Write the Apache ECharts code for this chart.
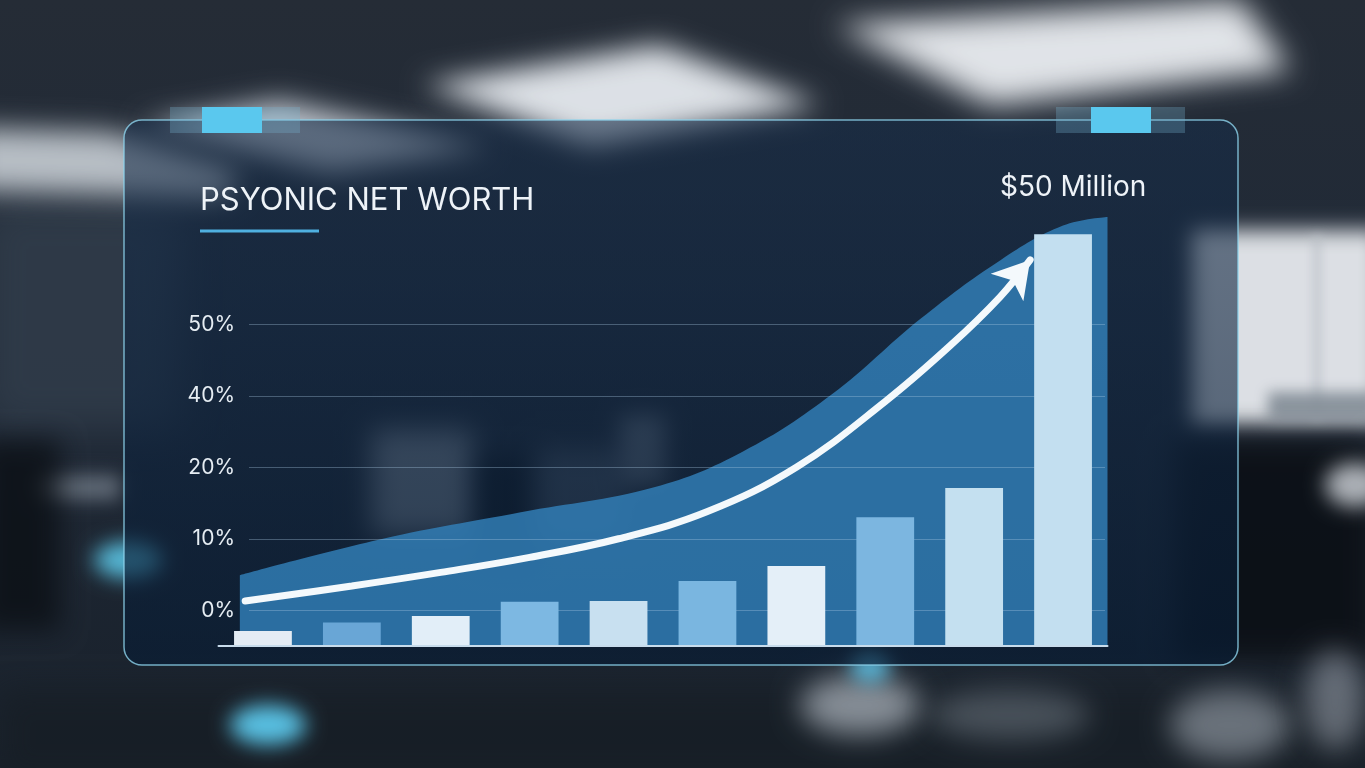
<!DOCTYPE html>
<html>
<head>
<meta charset="utf-8">
<script src="https://cdn.jsdelivr.net/npm/echarts@6/dist/echarts.min.js"></script>
<style>
  html, body { margin: 0; padding: 0; background: #1b2431; }
  #chart { width: 1365px; height: 768px; }
</style>
</head>
<body>
<div id="chart"></div>
<script>
// bars: heights in grid steps above the baseline
const categories = ['1', '2', '3', '4', '5', '6', '7', '8', '9', '10']
const barValues = [0.21, 0.33, 0.42, 0.62, 0.63, 0.91, 1.12, 1.80, 2.21, 5.76]
const barColors = ['#e4ecf4', '#69a6d6', '#e2eef8', '#7db8e2', '#c8e0f0',
  '#7ab6e0', '#e4eff8', '#7cb6e0', '#c4e0f0', '#c3dff0']

// y axis labels (evenly spaced, not linear)
const yLabels = ['0%', '10%', '20%', '40%', '50%']

// area behind the bars: [x position in bar slots, height in steps]
const areaPoints = [
  [-0.26, 0.99], [1.35, 1.50], [2.9, 1.87], [4.4, 2.22], [5.4, 2.72],
  [6.4, 3.52], [7.4, 4.58], [8.3, 5.40], [9.0, 5.88], [9.5, 6.0]
]

// growth arrow
const arrowPoints = [
  [-0.2, 0.63], [1.0, 0.84], [2.0, 1.03], [3.0, 1.24], [4.0, 1.50],
  [5.0, 1.88], [6.0, 2.50], [7.0, 3.42], [7.73, 4.20], [8.29, 4.88], [8.63, 5.40]
]

const chart = echarts.init(document.getElementById('chart'))

// blurred photo-like shapes: draw off screen, show only the shadow
const OFF = 3000
function blur(type, shape, color, amount) {
  const s = Object.assign({}, shape)
  if (type === 'polygon') s.points = shape.points.map(p => [p[0] - OFF, p[1]])
  else if (type === 'rect') s.x = shape.x - OFF
  else s.cx = shape.cx - OFF
  return {
    type: type, shape: s, silent: true, z: -10,
    style: { fill: '#000', shadowColor: color, shadowBlur: amount, shadowOffsetX: OFF }
  }
}

const background = [
  {
    type: 'rect', shape: { x: 0, y: 0, width: 1365, height: 768 }, silent: true, z: -20,
    style: {
      fill: new echarts.graphic.LinearGradient(0, 0, 0, 1, [
        { offset: 0, color: '#252c36' },
        { offset: 0.45, color: '#1f2937' },
        { offset: 1, color: '#19212b' }
      ])
    }
  },
  blur('rect', { x: -20, y: 200, width: 200, height: 230 }, 'rgba(48,60,74,0.85)', 40),
  // ceiling lights
  blur('polygon', { points: [[423, 85], [659, 45], [820, 105], [590, 146]] }, 'rgba(226,230,235,0.97)', 28),
  blur('polygon', { points: [[835, 25], [1240, 0], [1290, 70], [990, 105]] }, 'rgba(230,233,237,0.97)', 30),
  blur('polygon', { points: [[140, 125], [280, 100], [490, 148], [330, 172]] }, 'rgba(205,211,218,0.9)', 28),
  blur('polygon', { points: [[-30, 128], [110, 132], [240, 172], [225, 198], [-30, 190]] }, 'rgba(200,206,213,0.9)', 28),
  // windows on the right
  blur('rect', { x: 1192, y: 230, width: 190, height: 195 }, 'rgba(226,229,233,0.97)', 20),
  blur('rect', { x: 1312, y: 235, width: 10, height: 185 }, 'rgba(185,190,197,0.6)', 10),
  blur('rect', { x: 1268, y: 392, width: 110, height: 30 }, 'rgba(130,140,150,0.9)', 14),
  blur('rect', { x: 1175, y: 440, width: 200, height: 220 }, 'rgba(12,16,22,0.95)', 26),
  blur('ellipse', { cx: 1355, cy: 485, rx: 30, ry: 22 }, 'rgba(200,205,210,0.85)', 20),
  // office furniture
  blur('rect', { x: 372, y: 430, width: 100, height: 105 }, 'rgba(150,160,172,0.75)', 26),
  blur('rect', { x: 480, y: 455, width: 60, height: 110 }, 'rgba(10,16,24,0.8)', 24),
  blur('rect', { x: 535, y: 450, width: 90, height: 90 }, 'rgba(90,104,120,0.6)', 26),
  blur('rect', { x: 620, y: 415, width: 45, height: 70 }, 'rgba(130,142,156,0.6)', 22),
  blur('rect', { x: 35, y: 475, width: 85, height: 25 }, 'rgba(110,120,132,0.8)', 18),
  blur('rect', { x: -20, y: 440, width: 80, height: 190 }, 'rgba(12,16,22,0.85)', 26),
  blur('rect', { x: 0, y: 690, width: 1365, height: 90 }, 'rgba(22,28,36,0.7)', 30),
  blur('ellipse', { cx: 860, cy: 705, rx: 60, ry: 30 }, 'rgba(160,168,176,0.8)', 28),
  blur('ellipse', { cx: 1010, cy: 715, rx: 80, ry: 25 }, 'rgba(120,130,140,0.5)', 28),
  blur('ellipse', { cx: 1230, cy: 725, rx: 60, ry: 35 }, 'rgba(160,168,178,0.6)', 28),
  blur('ellipse', { cx: 1335, cy: 700, rx: 30, ry: 50 }, 'rgba(160,168,178,0.55)', 28),
  // blue glows
  blur('ellipse', { cx: 128, cy: 560, rx: 34, ry: 18 }, 'rgba(92,200,232,0.9)', 20),
  blur('ellipse', { cx: 268, cy: 725, rx: 38, ry: 20 }, 'rgba(92,200,236,0.95)', 20),
  blur('ellipse', { cx: 870, cy: 667, rx: 20, ry: 16 }, 'rgba(92,190,226,0.85)', 18),
  // glass panel
  {
    type: 'rect', shape: { x: 124, y: 120, width: 1114, height: 545, r: 18 }, silent: true, z: -5,
    style: {
      fill: new echarts.graphic.LinearGradient(0, 0, 0, 1, [
        { offset: 0, color: 'rgba(22,44,72,0.58)' },
        { offset: 1, color: 'rgba(8,28,52,0.68)' }
      ]),
      stroke: 'rgba(140,210,235,0.8)', lineWidth: 1.5
    }
  },
  // top tabs
  { type: 'rect', shape: { x: 170, y: 107, width: 130, height: 26 }, silent: true, z: -4, style: { fill: 'rgba(120,180,210,0.3)' } },
  { type: 'rect', shape: { x: 202, y: 107, width: 60, height: 26 }, silent: true, z: -3, style: { fill: '#5ac8ee' } },
  { type: 'rect', shape: { x: 1056, y: 107, width: 129, height: 26 }, silent: true, z: -4, style: { fill: 'rgba(120,180,210,0.3)' } },
  { type: 'rect', shape: { x: 1091, y: 107, width: 60, height: 26 }, silent: true, z: -3, style: { fill: '#5ac8ee' } },
  // title underline
  { type: 'rect', shape: { x: 200, y: 229.5, width: 119, height: 3 }, silent: true, z: 5, style: { fill: '#4fb0e0' } }
]

const arrowData = arrowPoints.map((p, i) => {
  if (i < arrowPoints.length - 1) return { value: p }
  return { value: p, symbol: 'arrow', symbolSize: [32, 36], symbolRotate: -40 }
})

const option = {
  animation: false,
  graphic: { elements: background },
  title: [
    {
      text: 'PSYONIC NET WORTH', left: 200, top: 183, padding: 0,
      textStyle: { color: '#eef3f8', fontFamily: 'Inter', fontSize: 31, fontWeight: 400, lineHeight: 36 }
    },
    {
      text: '$50 Million', left: 1000, top: 171, padding: 0,
      textStyle: { color: '#eef3f8', fontFamily: 'Inter', fontSize: 28, fontWeight: 400, lineHeight: 34 }
    }
  ],
  grid: [
    { left: 249, right: 260, top: 252.75, bottom: 157.75 },
    { left: 218.5, right: 257.5, top: 217, bottom: 122 }
  ],
  xAxis: [
    { type: 'value', gridIndex: 0, show: false, min: 0, max: 1 },
    {
      type: 'category', gridIndex: 1, data: categories,
      axisLine: { show: true, lineStyle: { color: '#c8dcec', width: 2 } },
      axisTick: { show: false }, axisLabel: { show: false }, z: 4
    },
    { type: 'value', gridIndex: 1, show: false, min: -0.5, max: 9.5 }
  ],
  yAxis: [
    {
      type: 'value', gridIndex: 0, min: 0, max: 5, interval: 1, z: 1,
      axisLine: { show: false }, axisTick: { show: false },
      axisLabel: {
        margin: 14, color: '#e6edf3', fontFamily: 'Inter', fontSize: 21,
        formatter: v => yLabels[v] || ''
      },
      splitLine: { showMaxLine: false, lineStyle: { color: 'rgba(170,200,225,0.35)', width: 1 } }
    },
    { type: 'value', gridIndex: 1, min: 0, max: 6, show: false }
  ],
  series: [
    {
      type: 'line', xAxisIndex: 2, yAxisIndex: 1, z: 0,
      data: areaPoints, smooth: 0.4, symbol: 'none', clip: false,
      lineStyle: { width: 0 },
      areaStyle: { color: 'rgba(50,128,186,0.82)', opacity: 1 }
    },
    {
      type: 'bar', xAxisIndex: 1, yAxisIndex: 1, z: 2,
      barWidth: '65%',
      data: barValues.map((v, i) => ({ value: v, itemStyle: { color: barColors[i] } }))
    },
    {
      type: 'line', xAxisIndex: 2, yAxisIndex: 1, z: 3,
      data: arrowData, smooth: 0.4, symbol: 'none', showSymbol: true, clip: false,
      lineStyle: { color: '#f4f9fc', width: 7, cap: 'round' },
      itemStyle: { color: '#f4f9fc' }
    }
  ]
}

chart.setOption(option)
</script>
</body>
</html>
